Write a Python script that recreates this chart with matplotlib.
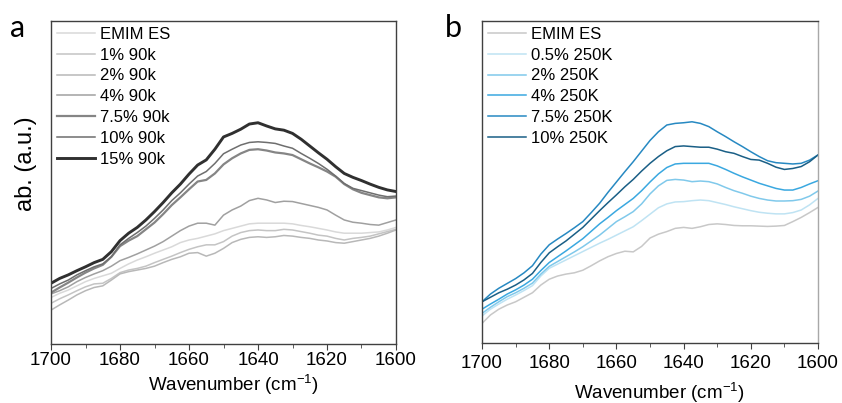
import numpy as np
import matplotlib.pyplot as plt
from matplotlib.ticker import MultipleLocator

plt.rcParams['font.family'] = ['Liberation Sans', 'DejaVu Sans']

# wavenumber axis (cm-1), values read every 2.5 cm-1 from 1700 down to 1600
wn = np.arange(1700, 1599, -2.5)

# panel a: 90k series (a.u., 0 = bottom of frame, 100 = top)
labels_a = ['EMIM ES', '1% 90k', '2% 90k', '4% 90k', '7.5% 90k', '10% 90k', '15% 90k']
emim_a = [14.4, 15.7, 16.7, 18.0, 19.3, 20.3, 21.1, 21.9, 23.4, 24.8, 26.0, 27.0, 28.1, 29.1,
          30.1, 31.4, 32.2, 32.7, 33.4, 34.1, 35.1, 35.8, 36.5, 37.2, 37.4, 37.4, 37.4, 37.4,
          37.2, 36.7, 36.3, 35.8, 35.3, 34.7, 34.3, 34.3, 34.3, 34.5, 34.7, 35.3, 36.1]
p1_90k = [12.6, 14.0, 15.2, 16.5, 17.7, 18.6, 18.8, 20.3, 22.1, 22.9, 23.4, 24.1, 25.2, 26.2,
          27.2, 28.3, 29.3, 30.1, 30.7, 30.7, 31.7, 33.4, 34.5, 35.1, 35.3, 35.1, 35.1, 35.5,
          35.3, 34.8, 34.3, 33.7, 33.4, 32.7, 32.2, 32.7, 33.0, 33.4, 34.1, 34.8, 35.5]
p2_90k = [10.5, 12.1, 13.6, 15.2, 16.5, 17.5, 18.0, 19.8, 21.7, 22.4, 22.9, 23.4, 24.1, 25.2,
          26.2, 27.0, 28.1, 28.3, 27.2, 28.1, 29.6, 31.4, 32.4, 33.0, 33.2, 33.0, 33.2, 33.6,
          33.4, 33.0, 32.7, 32.2, 31.9, 31.4, 31.2, 31.7, 32.2, 32.7, 33.4, 34.3, 35.3]
p4_90k = [15.5, 16.5, 17.7, 19.3, 20.6, 21.7, 22.7, 24.1, 25.8, 26.8, 27.9, 29.1, 30.3, 31.7,
          33.4, 35.1, 36.5, 37.4, 37.4, 36.8, 39.9, 41.5, 42.7, 44.4, 45.1, 44.6, 43.8, 44.2,
          44.1, 43.5, 42.9, 42.3, 41.5, 39.9, 38.4, 37.7, 37.4, 37.0, 36.8, 37.6, 38.4]
p75_90k = [15.9, 17.5, 19.0, 20.6, 22.1, 23.4, 24.5, 27.0, 30.3, 32.0, 33.4, 35.5, 37.6, 40.2,
           43.0, 45.4, 47.9, 50.3, 50.8, 52.8, 55.6, 57.5, 59.0, 60.1, 60.3, 59.9, 59.3, 59.0,
           58.5, 57.2, 55.9, 54.7, 53.4, 51.8, 49.5, 47.9, 46.8, 46.1, 45.4, 45.1, 45.4]
p10_90k = [17.2, 18.6, 19.8, 21.4, 22.7, 23.9, 24.8, 27.0, 30.7, 32.7, 34.5, 36.5, 38.9, 41.5,
           44.4, 46.8, 49.5, 52.0, 53.4, 55.9, 58.9, 60.3, 61.6, 62.4, 62.6, 62.4, 62.1, 61.3,
           60.6, 59.0, 57.5, 55.9, 54.1, 52.0, 49.7, 48.2, 47.5, 46.8, 46.1, 45.6, 45.8]
p15_90k = [18.8, 20.3, 21.4, 22.7, 23.9, 25.2, 26.2, 28.6, 32.0, 34.3, 36.1, 38.4, 41.0, 43.8,
           46.8, 49.5, 52.6, 55.4, 57.0, 60.3, 64.1, 65.2, 66.5, 68.1, 68.5, 67.5, 66.6, 66.2,
           65.2, 63.4, 61.3, 59.2, 57.2, 54.9, 52.8, 51.6, 50.6, 49.5, 48.5, 47.7, 47.2]

# panel b: 250K series
labels_b = ['EMIM ES', '0.5% 250K', '2% 250K', '4% 250K', '7.5% 250K', '10% 250K']
emim_b = [6.1, 8.7, 10.5, 11.8, 12.8, 14.2, 15.6, 18.0, 19.8, 20.8, 21.4, 21.8, 22.6, 24.0,
          25.5, 26.8, 27.8, 28.5, 28.3, 30.0, 32.6, 33.8, 34.6, 35.6, 35.9, 35.6, 36.1, 36.8,
          37.0, 36.8, 36.5, 36.4, 36.4, 36.3, 36.2, 36.3, 36.5, 37.7, 39.0, 40.5, 42.1]
p05_250k = [8.4, 10.5, 12.1, 13.6, 14.9, 16.3, 17.8, 20.8, 23.2, 24.5, 25.8, 27.1, 28.4, 29.7,
            31.0, 32.2, 33.5, 34.8, 36.1, 38.0, 40.0, 42.0, 43.2, 43.8, 43.9, 44.2, 44.4, 44.2,
            43.6, 43.0, 42.3, 41.7, 41.1, 40.6, 40.3, 40.1, 40.1, 40.5, 41.3, 42.9, 44.9]
p2_250k = [9.2, 11.1, 12.8, 14.4, 15.6, 17.0, 18.6, 21.4, 23.8, 25.3, 26.8, 28.3, 29.9, 31.7,
           33.5, 35.6, 37.7, 39.2, 40.8, 43.2, 46.3, 48.8, 50.5, 50.8, 50.6, 50.1, 50.3, 50.1,
           49.4, 48.3, 47.3, 46.5, 45.6, 44.9, 44.4, 44.1, 44.1, 44.2, 44.6, 45.6, 47.2]
p4_250k = [10.5, 12.1, 13.6, 15.2, 16.5, 18.0, 19.8, 22.5, 25.0, 26.8, 28.6, 30.5, 32.4, 34.7,
           37.0, 39.0, 41.1, 43.0, 44.9, 47.3, 50.0, 52.5, 54.5, 55.6, 55.8, 55.8, 55.8, 55.8,
           55.0, 53.9, 52.7, 51.6, 50.6, 49.6, 48.8, 48.0, 47.5, 47.5, 48.3, 49.4, 50.4]
p75_250k = [12.8, 15.2, 17.0, 18.5, 20.0, 21.8, 24.0, 27.6, 30.5, 32.3, 34.0, 35.8, 37.7, 40.5,
            43.4, 46.8, 50.0, 53.2, 56.3, 59.6, 62.9, 65.6, 67.7, 68.2, 68.4, 68.7, 68.2, 67.2,
            65.6, 64.1, 62.5, 61.0, 59.4, 57.9, 56.6, 56.0, 55.8, 55.6, 55.8, 56.8, 58.4]
p10_250k = [12.8, 14.2, 15.6, 16.7, 18.0, 19.6, 21.6, 25.0, 28.0, 29.9, 31.7, 33.8, 35.9, 38.5,
            41.1, 43.6, 46.0, 48.5, 50.8, 53.4, 55.8, 57.9, 59.7, 61.0, 61.2, 61.0, 60.8, 60.8,
            60.2, 59.4, 58.9, 57.9, 57.0, 56.8, 55.8, 54.6, 53.9, 54.2, 54.8, 56.3, 58.4]

series_a = [emim_a, p1_90k, p2_90k, p4_90k, p75_90k, p10_90k, p15_90k]
colors_a = ['#d9d9d9', '#c4c4c4', '#b8b8b8', '#a0a0a0', '#858585', '#6e6e6e', '#303030']
widths_a = [1.1, 1.1, 1.1, 1.1, 1.6, 1.1, 2.1]

series_b = [emim_b, p05_250k, p2_250k, p4_250k, p75_250k, p10_250k]
colors_b = ['#c8c8c8', '#bfe3f3', '#80c9eb', '#3aa8e0', '#2789c2', '#1a5f86']

fig = plt.figure(figsize=(8.42, 4.03), dpi=100)
ax1 = fig.add_axes([0.0606, 0.1464, 0.4097, 0.8015])
ax2 = fig.add_axes([0.5725, 0.1489, 0.3990, 0.7990])

for y, lab, c, lw in zip(series_a, labels_a, colors_a, widths_a):
    ax1.plot(wn, y, color=c, lw=lw, label=lab)
for y, lab, c in zip(series_b, labels_b, colors_b):
    ax2.plot(wn, y, color=c, lw=1.1, label=lab)

for ax in (ax1, ax2):
    ax.set_xlim(1700, 1600)
    ax.set_ylim(0, 100)
    ax.set_yticks([])
    ax.xaxis.set_major_locator(MultipleLocator(20))
    ax.xaxis.set_minor_locator(MultipleLocator(10))
    ax.tick_params(axis='x', which='major', direction='out', length=4.5, pad=1.5,
                   labelsize=13.5, color='#404040')
    ax.tick_params(axis='x', which='minor', direction='out', length=3, color='#404040')
    for s in ax.spines.values():
        s.set_color('#404040')
        s.set_linewidth(1.0)
    ax.set_xlabel('Wavenumber (cm$^{\\mathregular{-1}}$)', fontsize=13.5)
    ax.legend(loc='upper left', frameon=False, fontsize=12, handlelength=2.3,
              handletextpad=0.3, labelspacing=0.35, borderaxespad=0.15,
              borderpad=0.2)

ax2.tick_params(axis='x', which='major', pad=4)
ax2.spines['right'].set_color('#a8a8a8')
ax1.xaxis.set_label_coords(0.528, -0.088)
ax2.xaxis.set_label_coords(0.527, -0.114)
ax1.set_ylabel('ab. (a.u.)', fontsize=17)
ax1.yaxis.set_label_coords(-0.04, 0.557)

fig.text(0.012, 0.93, 'a', fontsize=22, family='Lato', va='center')
fig.text(0.528, 0.93, 'b', fontsize=22, family='Lato', va='center')

fig.savefig('out.png', dpi=100)
